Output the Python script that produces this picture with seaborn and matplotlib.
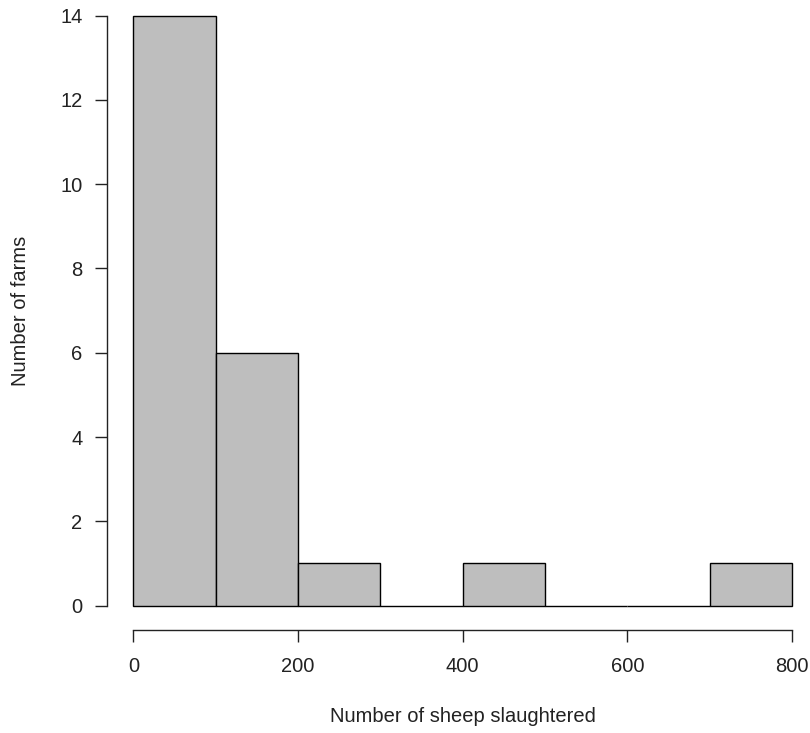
import numpy as np
import matplotlib
matplotlib.use("Agg")
import matplotlib.pyplot as plt
import seaborn as sns

# ==============================
# Data
# ==============================
bin_edges = [0, 100, 200, 300, 400, 500, 600, 700, 800]
bin_counts = [14, 6, 1, 0, 1, 0, 0, 1]
x_ticks = [0, 200, 400, 600, 800]
y_ticks = [0, 2, 4, 6, 8, 10, 12, 14]

bin_mids = [(a + b) / 2 for a, b in zip(bin_edges[:-1], bin_edges[1:])]

sns.set_theme(style="ticks")
plt.rcParams["font.family"] = ["Liberation Sans", "DejaVu Sans"]

fig = plt.figure(figsize=(8.1, 7.33), dpi=100)
ax = fig.add_axes([0.1646, 0.1739, 0.8132, 0.8047])

sns.histplot(x=bin_mids, weights=bin_counts, bins=bin_edges,
             color="#bebebe", edgecolor="black", linewidth=1.0,
             alpha=1.0, ax=ax)
# keep the bar outlines at 0 fully visible (R draws empty bins as a line)
for p in ax.patches:
    p.set_clip_on(False)

ax.set_xlim(0, 800)
ax.set_ylim(0, 14)
ax.set_xticks(x_ticks)
ax.set_yticks(y_ticks)

# R-style detached axes
sns.despine(ax=ax)
ax.spines["left"].set_position(("outward", 19))
ax.spines["bottom"].set_position(("outward", 17.6))
ax.spines["left"].set_bounds(0, 14)
ax.spines["bottom"].set_bounds(0, 800)
for s in ["left", "bottom"]:
    ax.spines[s].set_linewidth(1.0)
    ax.spines[s].set_color("#222222")

ax.tick_params(axis="both", length=8.6, width=1.0, color="#222222",
               labelsize=14.5, labelcolor="#222222")
ax.tick_params(axis="y", pad=9)
ax.tick_params(axis="x", pad=11)

ax.set_xlabel("Number of sheep slaughtered", fontsize=14.5, color="#222222", labelpad=22)
ax.set_ylabel("Number of farms", fontsize=14.5, color="#222222", labelpad=22)

fig.savefig("out.png", dpi=100)
